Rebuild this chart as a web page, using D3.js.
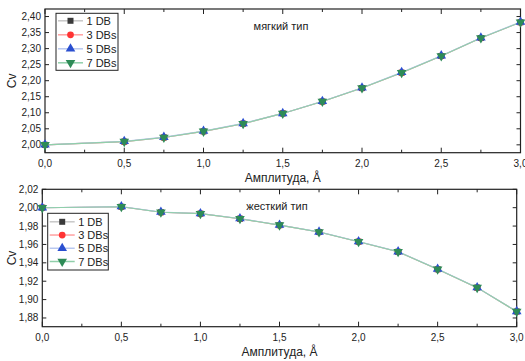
<!DOCTYPE html>
<html>
<head>
<meta charset="utf-8">
<script src="https://cdn.jsdelivr.net/npm/d3@7"></script>
<style>
  html, body { margin: 0; padding: 0; background: #fff; }
  svg { display: block; font-family: "Liberation Sans", Arial, sans-serif; }
</style>
</head>
<body>
<svg id="chart" width="525" height="361"></svg>
<script>
// ---------- data ----------
const amplitude = [0, 0.5, 0.75, 1.0, 1.25, 1.5, 1.75, 2.0, 2.25, 2.5, 2.75, 3.0];
const seriesNames = ["1 DB", "3 DBs", "5 DBs", "7 DBs"];
// soft type (мягкий тип)
const soft1 = [2.000, 2.010, 2.023, 2.042, 2.066, 2.098, 2.135, 2.177, 2.225, 2.277, 2.333, 2.382];
const soft3 = [2.000, 2.010, 2.023, 2.042, 2.066, 2.098, 2.135, 2.177, 2.225, 2.277, 2.333, 2.382];
const soft5 = [2.000, 2.011, 2.024, 2.043, 2.067, 2.098, 2.136, 2.178, 2.226, 2.278, 2.334, 2.383];
const soft7 = [2.000, 2.010, 2.023, 2.042, 2.066, 2.098, 2.135, 2.177, 2.225, 2.277, 2.333, 2.382];
// hard type (жесткий тип)
const hard1 = [2.000, 2.001, 1.995, 1.9935, 1.988, 1.981, 1.9735, 1.963, 1.952, 1.933, 1.913, 1.887];
const hard3 = [2.000, 2.001, 1.995, 1.9935, 1.988, 1.981, 1.9735, 1.963, 1.952, 1.933, 1.913, 1.887];
const hard5 = [2.000, 2.0012, 1.9952, 1.9937, 1.9882, 1.9812, 1.9737, 1.9632, 1.9522, 1.9332, 1.9132, 1.8872];
const hard7 = [2.000, 2.001, 1.995, 1.9935, 1.988, 1.981, 1.9735, 1.963, 1.952, 1.933, 1.913, 1.887];
const xTickValues = [0, 0.5, 1.0, 1.5, 2.0, 2.5, 3.0];
const xMinorValues = [0.25, 0.75, 1.25, 1.75, 2.25, 2.75];
const softYTicks = [2.00, 2.05, 2.10, 2.15, 2.20, 2.25, 2.30, 2.35, 2.40];
const hardYTicks = [1.88, 1.90, 1.92, 1.94, 1.96, 1.98, 2.00, 2.02];
const xTitle = "Амплитуда, Å";
const yTitle = "Cv";

// ---------- styles ----------
const styles = [
  { marker: d3.symbolSquare,   fill: "#3a3a3a", line: "#c8c8c8", size: 36, rot: 0 },
  { marker: d3.symbolCircle,   fill: "#ff3333", line: "#ffa0a0", size: 36, rot: 0 },
  { marker: d3.symbolTriangle, fill: "#2a4fd0", line: "#b8c8f0", size: 40, rot: 0 },
  { marker: d3.symbolTriangle, fill: "#2e8b57", line: "#90cfaa", size: 40, rot: 180 }
];

const fmt2 = d3.format(".2f"), fmt1 = d3.format(".1f");
const comma = s => s.replace(".", ",");
const svg = d3.select("#chart");

function panel(cfg) {
  const { left, right, top, bottom, yDomain, yTicks, series, label, labelPos, legendPos } = cfg;
  const x = d3.scaleLinear().domain([0, 3]).range([left, right]);
  const y = d3.scaleLinear().domain(yDomain).range([bottom, top]);
  const g = svg.append("g");

  // frame
  g.append("rect").attr("x", left).attr("y", top)
    .attr("width", right - left).attr("height", bottom - top)
    .attr("fill", "none").attr("stroke", "#222").attr("stroke-width", 1.2);

  // ticks (inward) on all four sides
  const xt = g.append("g").attr("stroke", "#222").attr("stroke-width", 1);
  xTickValues.forEach(v => {
    xt.append("line").attr("x1", x(v)).attr("x2", x(v)).attr("y1", bottom).attr("y2", bottom - 5);
    xt.append("line").attr("x1", x(v)).attr("x2", x(v)).attr("y1", top).attr("y2", top + 5);
  });
  xMinorValues.forEach(v => {
    xt.append("line").attr("x1", x(v)).attr("x2", x(v)).attr("y1", bottom).attr("y2", bottom - 3);
    xt.append("line").attr("x1", x(v)).attr("x2", x(v)).attr("y1", top).attr("y2", top + 3);
  });
  yTicks.forEach(v => {
    xt.append("line").attr("x1", left).attr("x2", left + 4).attr("y1", y(v)).attr("y2", y(v));
    xt.append("line").attr("x1", right).attr("x2", right - 4).attr("y1", y(v)).attr("y2", y(v));
  });

  // tick labels
  g.append("g").selectAll("text").data(xTickValues).join("text")
    .attr("x", d => x(d)).attr("y", bottom + 14)
    .attr("text-anchor", "middle").attr("font-size", 10).attr("fill", "#222")
    .text(d => comma(fmt1(d)));
  g.append("g").selectAll("text").data(yTicks).join("text")
    .attr("x", left - 4).attr("y", d => y(d) + 3.5)
    .attr("text-anchor", "end").attr("font-size", 10).attr("fill", "#222")
    .text(d => comma(fmt2(d)));

  // axis titles
  g.append("text").attr("x", (left + right) / 2).attr("y", bottom + 29)
    .attr("text-anchor", "middle").attr("font-size", 12).attr("fill", "#222").text(xTitle);
  g.append("text").attr("transform", `translate(16,${(top + bottom) / 2}) rotate(-90)`)
    .attr("text-anchor", "middle").attr("font-size", 12).attr("fill", "#222").text(yTitle);

  // series
  const line = d3.line().x((d, i) => x(amplitude[i])).y(d => y(d));
  series.forEach((vals, si) => {
    const st = styles[si];
    g.append("path").datum(vals).attr("d", line)
      .attr("fill", "none").attr("stroke", st.line).attr("stroke-width", 1.1);
  });
  series.forEach((vals, si) => {
    const st = styles[si];
    const sym = d3.symbol().type(st.marker).size(st.size);
    g.append("g").selectAll("path").data(vals).join("path")
      .attr("transform", (d, i) => `translate(${x(amplitude[i])},${y(d)}) rotate(${st.rot})`)
      .attr("d", sym).attr("fill", st.fill);
  });

  // annotation
  g.append("text").attr("x", labelPos[0]).attr("y", labelPos[1])
    .attr("text-anchor", "middle").attr("font-size", 11).attr("fill", "#222").text(label);

  // legend
  const [lx, ly, lw, lh, pad] = legendPos;
  g.append("rect").attr("x", lx).attr("y", ly).attr("width", lw).attr("height", lh)
    .attr("fill", "#fff").attr("stroke", "#222").attr("stroke-width", 1);
  const step = (lh - 2 * pad) / 3;
  seriesNames.forEach((name, si) => {
    const st = styles[si];
    const cy = ly + pad + step * si;
    g.append("line").attr("x1", lx + 2).attr("x2", lx + 27).attr("y1", cy).attr("y2", cy)
      .attr("stroke", st.line).attr("stroke-width", 1.5);
    g.append("path").attr("d", d3.symbol().type(st.marker).size(st.size)())
      .attr("transform", `translate(${lx + 14.5},${cy}) rotate(${st.rot})`).attr("fill", st.fill);
    g.append("text").attr("x", lx + 30.5).attr("y", cy + 4)
      .attr("font-size", 11).attr("fill", "#222").text(name);
  });
}

panel({
  left: 45, right: 520.5, top: 9, bottom: 152.7,
  yDomain: [1.9755, 2.4235], yTicks: softYTicks,
  series: [soft1, soft3, soft5, soft7],
  label: "мягкий тип", labelPos: [281, 29.5],
  legendPos: [56, 13.3, 62, 57, 7.5]
});
panel({
  left: 42.3, right: 516.7, top: 189.3, bottom: 326.7,
  yDomain: [1.8705, 2.02], yTicks: hardYTicks,
  series: [hard1, hard3, hard5, hard7],
  label: "жесткий тип", labelPos: [277, 209.5],
  legendPos: [47.7, 213.3, 60.6, 56.7, 8.5]
});
</script>
</body>
</html>
